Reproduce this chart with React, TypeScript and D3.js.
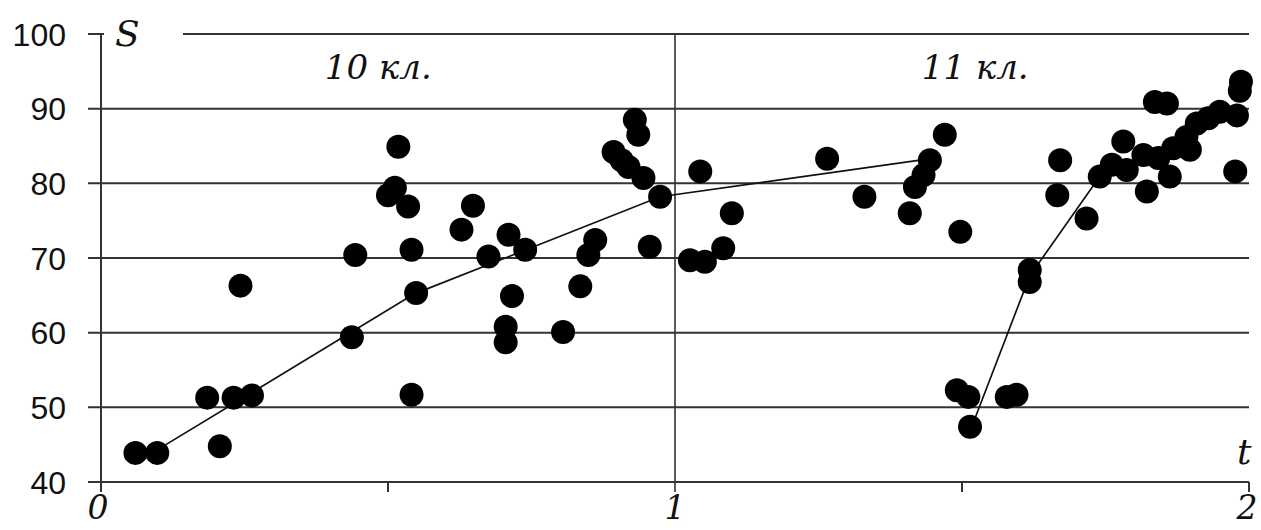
import React, { useEffect, useRef } from 'react';
import * as d3 from 'd3';

// measured points: t (years of study) and S (score)
const pointT = [
  0.06, 0.098, 0.185, 0.207, 0.231, 0.243, 0.263, 0.437, 0.443, 0.5,
  0.512, 0.518, 0.535, 0.541, 0.549, 0.541, 0.628, 0.648, 0.675, 0.71,
  0.739, 0.716, 0.705, 0.705, 0.805, 0.835, 0.849, 0.861, 0.893, 0.907,
  0.919, 0.93, 0.936, 0.945, 0.974, 0.956, 1.044, 1.026, 1.052, 1.084,
  1.099, 1.265, 1.33, 1.409, 1.418, 1.433, 1.444, 1.47, 1.497, 1.491,
  1.511, 1.514, 1.578, 1.595, 1.618, 1.618, 1.671, 1.666, 1.717, 1.74,
  1.761, 1.781, 1.787, 1.816, 1.822, 1.836, 1.857, 1.842, 1.862, 1.868,
  1.891, 1.897, 1.909, 1.929, 1.949, 1.979, 1.986, 1.984, 1.976
];
const pointS = [
  43.9, 43.9, 51.3, 44.8, 51.3, 66.3, 51.6, 59.4, 70.4, 78.4,
  79.4, 84.9, 76.9, 71.1, 65.3, 51.7, 73.8, 77.0, 70.2, 73.1,
  71.1, 64.9, 60.8, 58.7, 60.1, 66.2, 70.4, 72.4, 84.2, 83.1,
  82.2, 88.5, 86.5, 80.7, 78.2, 71.5, 81.6, 69.7, 69.5, 71.3,
  76.0, 83.3, 78.2, 76.0, 79.5, 81.1, 83.1, 86.5, 73.5, 52.3,
  51.4, 47.4, 51.4, 51.7, 68.4, 66.8, 83.1, 78.4, 75.3, 80.9,
  82.5, 85.6, 81.8, 83.8, 78.9, 90.9, 90.7, 83.4, 80.9, 84.7,
  86.2, 84.5, 88.0, 88.7, 89.6, 89.1, 93.6, 92.4, 81.6
];

// trend lines
const trend1T = [0.098, 0.546, 0.974, 1.427];
const trend1S = [44.3, 65.2, 78.2, 83.1];
const trend2T = [1.516, 1.618, 1.74];
const trend2S = [47.2, 67.6, 80.9];

const yTicks = [40, 50, 60, 70, 80, 90, 100];
const xTicks = [0, 0.5, 1, 1.5, 2];
const xLabels = ['0', '1', '2'];
const gradeLabels = ['10 кл.', '11 кл.'];
const gradeLabelT = [0.39, 1.43];

const W = 1261;
const H = 530;
const serif = '"DejaVu Serif", serif';
const sans = '"Liberation Sans", Arial, sans-serif';

const App = () => {
  const ref = useRef<SVGSVGElement>(null);

  useEffect(() => {
    const svg = d3.select(ref.current);
    svg.selectAll('*').remove();

    const x = d3.scaleLinear().domain([0, 2]).range([101, 1249]);
    const y = d3.scaleLinear().domain([40, 100]).range([482, 34]);
    const ink = '#333';

    // horizontal grid lines (the top one is broken by the S label)
    yTicks.forEach(v => {
      const parts = v === 100 ? [[88, 104], [183, x(2)]] : [[88, x(2)]];
      parts.forEach(([a, b]) => {
        svg.append('line')
          .attr('x1', a).attr('x2', b)
          .attr('y1', y(v)).attr('y2', y(v))
          .attr('stroke', ink).attr('stroke-width', 2);
      });
      svg.append('text')
        .attr('x', 66)
        .attr('y', y(v) + 11.5)
        .attr('text-anchor', 'end')
        .attr('font-family', sans)
        .attr('font-size', 32)
        .attr('fill', '#111')
        .text(v);
    });

    // y axis
    svg.append('line')
      .attr('x1', x(0)).attr('x2', x(0))
      .attr('y1', y(100)).attr('y2', y(40) + 10)
      .attr('stroke', ink).attr('stroke-width', 2);

    // x ticks, t = 1 runs full height
    xTicks.forEach(v => {
      svg.append('line')
        .attr('x1', x(v)).attr('x2', x(v))
        .attr('y1', v === 1 ? y(100) : y(40)).attr('y2', y(40) + 10)
        .attr('stroke', ink).attr('stroke-width', v === 1 ? 1.6 : 2);
    });

    xLabels.forEach(l => {
      svg.append('text')
        .attr('x', x(+l) + (l === '0' ? -3 : l === '2' ? -2 : 0))
        .attr('y', 519)
        .attr('text-anchor', 'middle')
        .attr('font-family', serif)
        .attr('font-style', 'italic')
        .attr('font-size', 33)
        .attr('fill', '#111')
        .text(l);
    });

    const drawTrend = (ts: number[], ss: number[]) => {
      const l = d3.line<number>()
        .x(d => x(ts[d]))
        .y(d => y(ss[d]));
      svg.append('path')
        .attr('d', l(d3.range(ts.length)))
        .attr('fill', 'none')
        .attr('stroke', '#111')
        .attr('stroke-width', 1.7);
    };
    drawTrend(trend1T, trend1S);
    drawTrend(trend2T, trend2S);

    svg.append('g')
      .selectAll('circle')
      .data(d3.range(pointT.length))
      .enter()
      .append('circle')
      .attr('cx', i => x(pointT[i]))
      .attr('cy', i => y(pointS[i]))
      .attr('r', 12)
      .attr('fill', '#000');

    gradeLabels.forEach((g, i) => {
      svg.append('text')
        .attr('x', x(gradeLabelT[i]))
        .attr('y', 79)
        .attr('font-family', serif)
        .attr('font-style', 'italic')
        .attr('font-size', 34)
        .attr('fill', '#111')
        .text(g);
    });

    svg.append('text')
      .attr('x', 115).attr('y', 46)
      .attr('font-family', serif)
      .attr('font-style', 'italic')
      .attr('font-size', 36)
      .attr('fill', '#111')
      .text('S');

    svg.append('text')
      .attr('x', 1237).attr('y', 464)
      .attr('font-family', serif)
      .attr('font-style', 'italic')
      .attr('font-size', 36)
      .attr('fill', '#111')
      .text('t');
  }, []);

  return (
    <svg
      ref={ref}
      width={W}
      height={H}
      style={{ position: 'absolute', left: 0, top: 0, background: '#fff' }}
    />
  );
};

export default App;
